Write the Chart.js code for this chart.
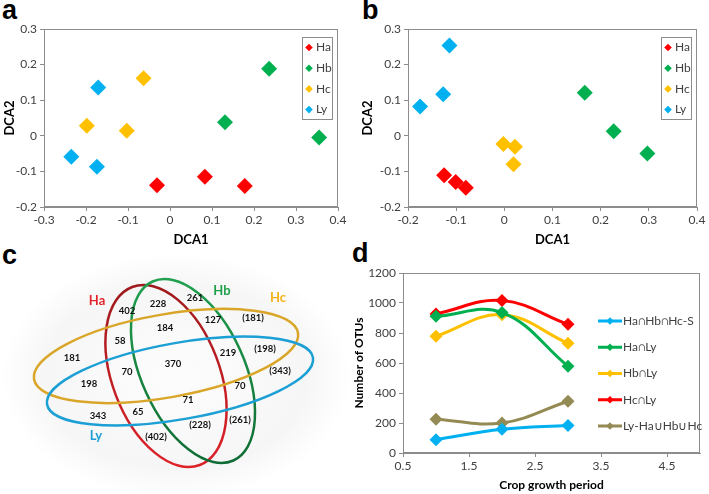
<!DOCTYPE html>
<html>
<head>
<meta charset="utf-8">
<script src="https://cdn.jsdelivr.net/npm/chart.js@4.4.1/dist/chart.umd.min.js"></script>
<style>
  body { margin: 0; background: #fff; width: 709px; height: 494px; position: relative; overflow: hidden; }
  canvas { position: absolute; }
  .tag { position: absolute; font: bold 27px 'Liberation Sans', Arial, sans-serif; line-height: 27px; color: #000; }
</style>
</head>
<body>
<div class="tag" style="left:2px;top:-3px">a</div>
<div class="tag" style="left:362px;top:-3px">b</div>
<div class="tag" style="left:2px;top:242px">c</div>
<div class="tag" style="left:352px;top:240px">d</div>
<canvas id="dca-a" width="350" height="250" style="left:0;top:0"></canvas>
<canvas id="dca-b" width="359" height="250" style="left:350px;top:0"></canvas>
<canvas id="venn" width="350" height="249" style="left:0;top:245px"></canvas>
<canvas id="otus" width="359" height="249" style="left:350px;top:245px"></canvas>
<script>
// DCA ordination, panels a and b
const dcaGroups = ['Ha', 'Hb', 'Hc', 'Ly'];
const dcaColors = ['#ff0000', '#00b050', '#ffc000', '#00b0f0'];

const aHa = [[-0.031, -0.139], [0.083, -0.115], [0.178, -0.141]];
const aHb = [[0.236, 0.188], [0.131, 0.038], [0.355, -0.005]];
const aHc = [[-0.063, 0.162], [-0.198, 0.028], [-0.103, 0.014]];
const aLy = [[-0.171, 0.136], [-0.235, -0.059], [-0.174, -0.087]];

const bHa = [[-0.125, -0.111], [-0.101, -0.130], [-0.080, -0.146]];
const bHb = [[0.167, 0.121], [0.227, 0.013], [0.297, -0.050]];
const bHc = [[-0.002, -0.023], [0.022, -0.031], [0.019, -0.080]];
const bLy = [[-0.114, 0.254], [-0.127, 0.117], [-0.175, 0.082]];

const aXTicks = [-0.3, -0.2, -0.1, 0, 0.1, 0.2, 0.3, 0.4];
const bXTicks = [-0.2, -0.1, 0, 0.1, 0.2, 0.3, 0.4];
const dcaYTicks = [-0.2, -0.1, 0, 0.1, 0.2, 0.3];

// shared OTUs over the crop growth period, panel d
const periods = [1, 2, 3];
const otuLabels = ['Ha\u2229Hb\u2229Hc-S', 'Ha\u2229Ly', 'Hb\u2229Ly', 'Hc\u2229Ly', 'Ly-Ha\u222AHb\u222AHc'];
const otuColors = ['#00b0f0', '#00b050', '#ffc000', '#ff0000', '#948a54'];
const coreS = [89, 158, 184];
const haLy = [911, 936, 578];
const hbLy = [778, 922, 731];
const hcLy = [927, 1016, 858];
const lyOnly = [225, 200, 345];
const otuXTicks = [0.5, 1.5, 2.5, 3.5, 4.5];
const otuYTicks = [0, 200, 400, 600, 800, 1000, 1200];

// venn counts, panel c
const vennSets = ['Ha', 'Hb', 'Hc', 'Ly'];
const vennSetColors = ['#e3262b', '#1f9e4b', '#f2b21b', '#1d9fd6'];
const vennCounts = ['402', '228', '261', '127', '(181)', '184', '58', '181', '219', '(198)',
  '370', '70', '(343)', '198', '70', '71', '65', '343', '(261)', '(228)', '(402)'];

// venn layout in page pixels (the venn chart's scales run in the same units)
const vennCountPos = [[127, 311], [158, 304], [195, 298], [213, 320], [253, 318], [165, 328],
  [120, 341], [72, 358], [228, 353], [265, 349], [173, 364], [127, 372], [280, 371], [89, 384],
  [240, 386], [188, 400], [138, 412], [98, 416], [240, 420], [200, 425], [156, 437]];
const vennSetPos = [[97, 301], [222, 291], [278, 298], [96, 436]];
const vennShapes = [
  { cx: 166, cy: 376, rx: 53.7, ry: 95.2, rot: -20.8, top: '#9c1a1c', bottom: '#e0222a' },
  { cx: 193, cy: 371, rx: 51.6, ry: 98.2, rot: -24.3, top: '#21a24f', bottom: '#0f6a33' },
  { cx: 166, cy: 356, rx: 134, ry: 41.5, rot: -10, top: '#d9a62a', bottom: '#d9a62a' },
  { cx: 180, cy: 381, rx: 135, ry: 38.2, rot: -10, top: '#1c9fd4', bottom: '#1c9fd4' }
];

Chart.defaults.font.family = 'Lato';
Chart.defaults.color = '#404040';
Chart.defaults.animation = false;
Chart.defaults.events = [];

const axisGrey = '#8c8c8c';

function diamond(ctx, x, y, r, color) {
  ctx.beginPath();
  ctx.moveTo(x - r, y);
  ctx.lineTo(x, y - r);
  ctx.lineTo(x + r, y);
  ctx.lineTo(x, y + r);
  ctx.closePath();
  ctx.fillStyle = color;
  ctx.fill();
}

// grey box round the plot area
const frame = {
  id: 'frame',
  afterDraw(chart) {
    const { ctx, chartArea: c } = chart;
    ctx.save();
    ctx.strokeStyle = axisGrey;
    ctx.lineWidth = 1;
    ctx.strokeRect(Math.round(c.left) + 0.5, Math.round(c.top) + 0.5, Math.round(c.width) - 1, Math.round(c.height) - 1);
    ctx.restore();
  }
};

// small boxed legend inside the DCA plots
const boxLegend = {
  id: 'boxLegend',
  afterDraw(chart) {
    const { ctx, chartArea: c } = chart;
    const x = Math.round(c.right - 36), y = Math.round(c.top + 8);
    ctx.save();
    ctx.fillStyle = '#fff';
    ctx.fillRect(x, y, 30, 82);
    ctx.strokeStyle = axisGrey;
    ctx.strokeRect(x + 0.5, y + 0.5, 30, 82);
    ctx.font = '12px Lato';
    ctx.textBaseline = 'middle';
    chart.data.datasets.forEach((ds, i) => {
      const cy = y + 10.5 + i * 20.7;
      diamond(ctx, x + 7, cy, 3.8, ds.backgroundColor);
      ctx.fillStyle = '#404040';
      ctx.fillText(ds.label, x + 14, cy);
    });
    ctx.restore();
  }
};

// line legend on the right of panel d
const lineLegend = {
  id: 'lineLegend',
  afterDraw(chart) {
    const { ctx, chartArea: c } = chart;
    ctx.save();
    ctx.font = '12px Lato';
    ctx.textBaseline = 'middle';
    chart.data.datasets.forEach((ds, i) => {
      const cy = c.top + 48 + i * 26.25;
      ctx.strokeStyle = ds.borderColor;
      ctx.lineWidth = 3;
      ctx.beginPath();
      ctx.moveTo(c.right - 102, cy);
      ctx.lineTo(c.right - 78, cy);
      ctx.stroke();
      diamond(ctx, c.right - 90, cy, 3.8, ds.borderColor);
      ctx.fillStyle = '#404040';
      ctx.fillText(ds.label, c.right - 77, cy);
    });
    ctx.restore();
  }
};

function dcaChart(id, sets, xTicks, padLeft, yWidth) {
  return new Chart(document.getElementById(id).getContext('2d'), {
    type: 'scatter',
    data: {
      datasets: sets.map((pts, i) => ({
        label: dcaGroups[i],
        data: pts.map(([x, y]) => ({ x, y })),
        backgroundColor: dcaColors[i],
        borderColor: dcaColors[i],
        pointStyle: 'rectRot',
        pointRadius: 8,
        pointBorderWidth: 0
      }))
    },
    options: {
      responsive: false,
      layout: { padding: { left: padLeft, right: 12, top: 29, bottom: 0 } },
      plugins: { legend: { display: false }, tooltip: { enabled: false } },
      scales: {
        x: {
          type: 'linear',
          min: xTicks[0],
          max: xTicks[xTicks.length - 1],
          afterBuildTicks: s => { s.ticks = xTicks.map(v => ({ value: v })); },
          afterFit: s => { s.height = 43; },
          grid: { drawOnChartArea: false, tickLength: 4, color: axisGrey },
          border: { color: axisGrey },
          ticks: { font: { size: 12 }, padding: 2, callback: v => String(v) },
          title: { display: true, text: 'DCA1', color: '#000', font: { size: 13, weight: 'bold' }, padding: 2 }
        },
        y: {
          min: -0.2,
          max: 0.3,
          afterBuildTicks: s => { s.ticks = dcaYTicks.map(v => ({ value: v })); },
          afterFit: s => { s.width = yWidth; },
          grid: { drawOnChartArea: false, tickLength: 4, color: axisGrey },
          border: { color: axisGrey },
          ticks: { font: { size: 12 }, padding: 3, callback: v => String(v) },
          title: { display: true, text: 'DCA2', color: '#000', font: { size: 13, weight: 'bold' }, padding: 2 }
        }
      }
    },
    plugins: [frame, boxLegend]
  });
}

const dca_a_chart = dcaChart('dca-a', [aHa, aHb, aHc, aLy], aXTicks, 0, 44);
const dca_b_chart = dcaChart('dca-b', [bHa, bHb, bHc, bLy], bXTicks, 8, 50);

// venn: ellipses and counts drawn through the chart's scales
const vennHalo = {
  id: 'vennHalo',
  beforeDatasetsDraw(chart) {
    const { ctx, scales: { x, y } } = chart;
    const cx = x.getPixelForValue(176), cy = y.getPixelForValue(376);
    ctx.save();
    ctx.translate(cx, cy);
    ctx.scale(1, 0.7);
    const g = ctx.createRadialGradient(0, 0, 0, 0, 0, 175);
    g.addColorStop(0, '#fdfdfd');
    g.addColorStop(0.75, '#f6f6f6');
    g.addColorStop(1, 'rgba(255,255,255,1)');
    ctx.fillStyle = g;
    ctx.beginPath();
    ctx.arc(0, 0, 175, 0, Math.PI * 2);
    ctx.fill();
    ctx.restore();
  }
};

const vennDraw = {
  id: 'vennDraw',
  afterDatasetsDraw(chart) {
    const { ctx, scales: { x, y } } = chart;
    ctx.save();
    vennShapes.forEach(e => {
      const px = x.getPixelForValue(e.cx), py = y.getPixelForValue(e.cy);
      const rx = Math.abs(x.getPixelForValue(e.cx + e.rx) - px);
      const ry = Math.abs(y.getPixelForValue(e.cy + e.ry) - py);
      const g = ctx.createLinearGradient(0, py - ry, 0, py + ry);
      g.addColorStop(0, e.top);
      g.addColorStop(1, e.bottom);
      ctx.strokeStyle = g;
      ctx.lineWidth = 2.5;
      ctx.beginPath();
      ctx.ellipse(px, py, rx, ry, e.rot * Math.PI / 180, 0, Math.PI * 2);
      ctx.stroke();
    });
    ctx.textAlign = 'center';
    ctx.textBaseline = 'middle';
    chart.getDatasetMeta(0).data.forEach((pt, i) => {
      ctx.font = 'bold 9.5px Lato';
      ctx.fillStyle = '#111';
      ctx.fillText(vennCounts[i], pt.x, pt.y);
    });
    chart.getDatasetMeta(1).data.forEach((pt, i) => {
      ctx.font = 'bold 13px Lato';
      ctx.fillStyle = vennSetColors[i];
      ctx.fillText(vennSets[i], pt.x, pt.y);
    });
    ctx.restore();
  }
};

const venn_chart = new Chart(document.getElementById('venn').getContext('2d'), {
  type: 'scatter',
  data: {
    datasets: [
      { label: 'counts', data: vennCountPos.map(([x, y]) => ({ x, y })), pointRadius: 0 },
      { label: 'sets', data: vennSetPos.map(([x, y]) => ({ x, y })), pointRadius: 0 }
    ]
  },
  options: {
    responsive: false,
    layout: { padding: 0 },
    plugins: { legend: { display: false }, tooltip: { enabled: false } },
    scales: {
      x: { display: false, min: 0, max: 350 },
      y: { display: false, min: 245, max: 494, reverse: true }
    }
  },
  plugins: [vennHalo, vennDraw]
});

const otus_chart = new Chart(document.getElementById('otus').getContext('2d'), {
  type: 'line',
  data: {
    datasets: [coreS, haLy, hbLy, hcLy, lyOnly].map((vals, i) => ({
      label: otuLabels[i],
      data: vals.map((v, j) => ({ x: periods[j], y: v })),
      borderColor: otuColors[i],
      backgroundColor: otuColors[i],
      pointBackgroundColor: otuColors[i],
      pointBorderColor: otuColors[i],
      borderWidth: 3,
      tension: 0.4,
      pointStyle: 'rectRot',
      pointRadius: 6.5,
      pointBorderWidth: 0
    }))
  },
  options: {
    responsive: false,
    layout: { padding: { left: 0, right: 9, top: 28, bottom: 0 } },
    plugins: { legend: { display: false }, tooltip: { enabled: false } },
    scales: {
      x: {
        type: 'linear',
        min: 0.5,
        max: 5,
        afterBuildTicks: s => { s.ticks = otuXTicks.map(v => ({ value: v })); },
        afterFit: s => { s.height = 41; },
        grid: { drawOnChartArea: false, tickLength: 4, color: axisGrey },
        border: { color: axisGrey },
        ticks: { font: { size: 12 }, padding: 2, callback: v => String(v) },
        title: { display: true, text: 'Crop growth period', color: '#000', font: { size: 12, weight: 'bold' }, padding: 2 }
      },
      y: {
        min: 0,
        max: 1200,
        afterBuildTicks: s => { s.ticks = otuYTicks.map(v => ({ value: v })); },
        afterFit: s => { s.width = 53; },
        grid: { drawOnChartArea: false, tickLength: 4, color: axisGrey },
        border: { color: axisGrey },
        ticks: { font: { size: 12 }, padding: 3, callback: v => String(v) },
        title: { display: true, text: 'Number of OTUs', color: '#000', font: { size: 12, weight: 'bold' }, padding: 2 }
      }
    }
  },
  plugins: [frame, lineLegend]
});
</script>
</body>
</html>
